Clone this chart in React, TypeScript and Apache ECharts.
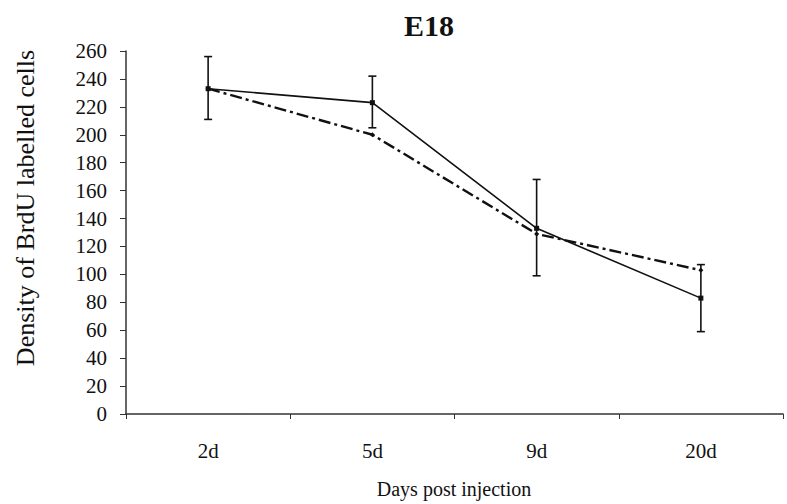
import React, { useEffect, useRef } from "react";
import * as echarts from "echarts";

const categories = ["2d", "5d", "9d", "20d"];
const solidValues = [233, 223, 133, 83];
const solidLow = [211, 205, 99, 59];
const solidHigh = [256, 242, 168, 107];
const dashedValues = [233, 200, 129, 103];
const yTicks = { min: 0, max: 260, interval: 20 };

const FONT = '"Liberation Serif", "Times New Roman", serif';

export default function App() {
  const ref = useRef<HTMLDivElement>(null);
  useEffect(() => {
    document.body.style.margin = "0";
    if (!ref.current) return;
    const chart = echarts.init(ref.current, null, { renderer: "svg" });
    const errData = categories.map((_, i) => [i, solidLow[i], solidHigh[i]]);
    chart.setOption({
      animation: false,
      backgroundColor: "#fff",
      grid: { left: 126, right: 4, top: 51, bottom: 90, containLabel: false },
      graphic: [
        {
          type: "text",
          x: 429,
          y: 25,
          style: {
            text: "E18",
            font: `bold 30px ${FONT}`,
            fill: "#111",
            align: "center",
            verticalAlign: "middle",
          },
        },
        {
          type: "text",
          x: 25,
          y: 208,
          rotation: Math.PI / 2,
          style: {
            text: "Density of BrdU labelled cells",
            font: `26px ${FONT}`,
            fill: "#111",
            align: "center",
            verticalAlign: "middle",
          },
        },
        {
          type: "text",
          x: 454,
          y: 489,
          style: {
            text: "Days post injection",
            font: `20px ${FONT}`,
            fill: "#111",
            align: "center",
            verticalAlign: "middle",
          },
        },
      ],
      xAxis: {
        type: "category",
        data: categories,
        boundaryGap: true,
        axisLine: { lineStyle: { color: "#333", width: 1.5 } },
        axisTick: { show: true, length: 5, inside: false, lineStyle: { color: "#333" } },
        axisLabel: { margin: 26, fontFamily: FONT, fontSize: 21, color: "#111" },
        splitLine: { show: false },
      },
      yAxis: {
        type: "value",
        min: yTicks.min,
        max: yTicks.max,
        interval: yTicks.interval,
        axisLine: { show: true, lineStyle: { color: "#333", width: 1.5 } },
        axisTick: { show: true, length: 6, lineStyle: { color: "#333" } },
        axisLabel: { margin: 19, fontFamily: FONT, fontSize: 21, color: "#111" },
        splitLine: { show: false },
      },
      series: [
        {
          type: "line",
          data: solidValues,
          symbol: "rect",
          symbolSize: 5,
          itemStyle: { color: "#111" },
          lineStyle: { color: "#111", width: 1.6, type: "solid" },
          z: 3,
        },
        {
          type: "line",
          data: dashedValues,
          symbol: "diamond",
          symbolSize: 5,
          itemStyle: { color: "#111" },
          lineStyle: { color: "#111", width: 2.4, type: [12, 4, 3, 4] },
          z: 2,
        },
        {
          type: "custom",
          data: errData,
          z: 4,
          renderItem: (params: any, api: any) => {
            const x = api.value(0);
            const lo = api.coord([x, api.value(1)]);
            const hi = api.coord([x, api.value(2)]);
            const w = 4;
            const style = { stroke: "#111", lineWidth: 1.6 };
            return {
              type: "group",
              children: [
                { type: "line", shape: { x1: lo[0], y1: lo[1], x2: hi[0], y2: hi[1] }, style },
                { type: "line", shape: { x1: lo[0] - w, y1: lo[1], x2: lo[0] + w, y2: lo[1] }, style },
                { type: "line", shape: { x1: hi[0] - w, y1: hi[1], x2: hi[0] + w, y2: hi[1] }, style },
              ],
            };
          },
        },
      ],
    });
    return () => chart.dispose();
  }, []);
  return <div ref={ref} style={{ width: 787, height: 504 }} />;
}
